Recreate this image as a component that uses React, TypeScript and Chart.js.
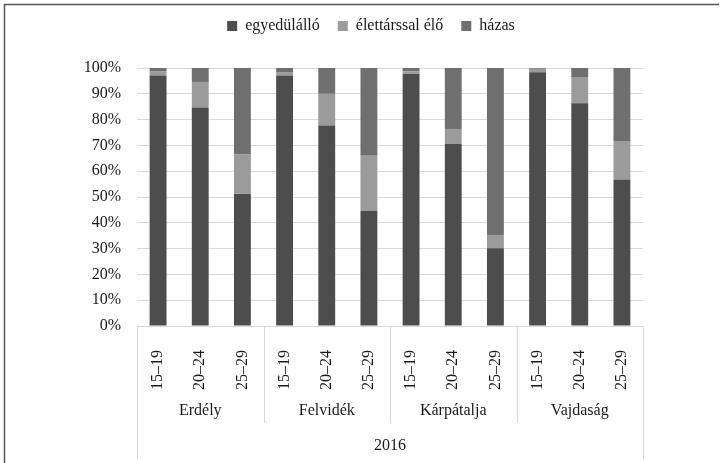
import React, { useEffect, useRef } from "react";
import { Chart, registerables } from "chart.js";

Chart.register(...registerables);

const ageLabels = ["15–19", "20–24", "25–29", "15–19", "20–24", "25–29", "15–19", "20–24", "25–29", "15–19", "20–24", "25–29"];
const regions = ["Erdély", "Felvidék", "Kárpátalja", "Vajdaság"];
const yearLabel = "2016";
const seriesNames = ["egyedülálló", "élettárssal élő", "házas"];
const egyedulallo = [97.1, 84.7, 51.2, 97.1, 77.7, 44.7, 97.8, 70.5, 30.1, 98.4, 86.3, 56.8];
const elettarssal = [1.7, 9.9, 15.3, 1.1, 12.3, 21.3, 0.9, 5.9, 5.2, 1.3, 10.2, 14.9];
const hazas = [1.2, 5.4, 33.5, 1.8, 10.0, 34.0, 1.3, 23.6, 64.7, 0.3, 3.5, 28.3];
const colors = ["#4d4d4d", "#9b9b9b", "#6f6f6f"];

const FONT = "\"Liberation Serif\", serif";
const TEXT = "#1a1a1a";
const GRID = "#d9d9d9";

const legendSpacer = {
  id: "legendSpacer",
  afterInit(chart: any) {
    const legend = chart.legend;
    if (!legend) return;
    const fit = legend.fit.bind(legend);
    legend.fit = function () {
      fit();
      this.height = 68;
    };
  },
};

const multiLevelAxis = {
  id: "multiLevelAxis",
  afterDraw(chart: any) {
    const ctx = chart.ctx;
    const xs = chart.scales.x;
    const area = chart.chartArea;
    const per = 3;
    ctx.save();
    ctx.strokeStyle = GRID;
    ctx.lineWidth = 1;
    const groups = regions.length;
    for (let g = 0; g <= groups; g++) {
      const x = Math.round(xs.getPixelForValue(g * per - 0.5)) + 0.5;
      const bottom = g === 0 || g === groups ? 459 : 423;
      ctx.beginPath();
      ctx.moveTo(x, area.bottom);
      ctx.lineTo(x, bottom);
      ctx.stroke();
    }
    ctx.fillStyle = TEXT;
    ctx.font = `16px ${FONT}`;
    ctx.textAlign = "center";
    ctx.textBaseline = "middle";
    for (let g = 0; g < groups; g++) {
      const x0 = xs.getPixelForValue(g * per - 0.5);
      const x1 = xs.getPixelForValue(g * per + per - 0.5);
      ctx.fillText(regions[g], (x0 + x1) / 2, 411);
    }
    ctx.fillText(yearLabel, (xs.left + xs.right) / 2, 446);
    ctx.strokeStyle = "#555555";
    ctx.lineWidth = 1.5;
    ctx.beginPath();
    ctx.moveTo(4.5, 463);
    ctx.lineTo(4.5, 4.5);
    ctx.lineTo(719, 4.5);
    ctx.stroke();
    ctx.restore();
  },
};

export default function App() {
  const ref = useRef<HTMLCanvasElement | null>(null);
  useEffect(() => {
    if (!ref.current) return;
    const chart = new Chart(ref.current, {
      type: "bar",
      data: {
        labels: ageLabels,
        datasets: [
          { label: seriesNames[0], data: egyedulallo, backgroundColor: colors[0] },
          { label: seriesNames[1], data: elettarssal, backgroundColor: colors[1] },
          { label: seriesNames[2], data: hazas, backgroundColor: colors[2] },
        ],
      },
      options: {
        animation: false,
        responsive: true,
        maintainAspectRatio: false,
        layout: { padding: { top: 0, left: 22, right: 0, bottom: 0 } },
        datasets: { bar: { barPercentage: 0.4, categoryPercentage: 1 } },
        plugins: {
          legend: {
            position: "top",
            labels: {
              font: { family: FONT, size: 16 },
              color: TEXT,
              boxWidth: 10,
              boxHeight: 10,
              padding: 18,
            },
          },
          tooltip: { enabled: false },
        },
        scales: {
          x: {
            stacked: true,
            grid: { display: false },
            border: { display: true, color: GRID },
            ticks: {
              font: { family: FONT, size: 16 },
              color: TEXT,
              minRotation: 90,
              maxRotation: 90,
              autoSkip: false,
              padding: 16,
            },
            afterFit(scale: any) {
              scale.height = 137;
            },
          },
          y: {
            stacked: true,
            min: 0,
            max: 100,
            grid: { color: GRID, drawTicks: false },
            border: { display: false },
            ticks: {
              stepSize: 10,
              font: { family: FONT, size: 16 },
              color: TEXT,
              padding: 16,
              callback: (v: any) => `${v}%`,
            },
            afterFit(scale: any) {
              scale.width = 115;
            },
          },
          yRight: {
            position: "right",
            min: 0,
            max: 100,
            grid: { display: false },
            border: { display: false },
            ticks: { display: false },
            afterFit(scale: any) {
              scale.width = 77;
            },
          },
        },
      },
      plugins: [legendSpacer, multiLevelAxis],
    });
    return () => chart.destroy();
  }, []);
  return (
    <div style={{ position: "fixed", left: 0, top: 0, width: 720, height: 463, background: "#fff" }}>
      <canvas ref={ref} />
    </div>
  );
}
